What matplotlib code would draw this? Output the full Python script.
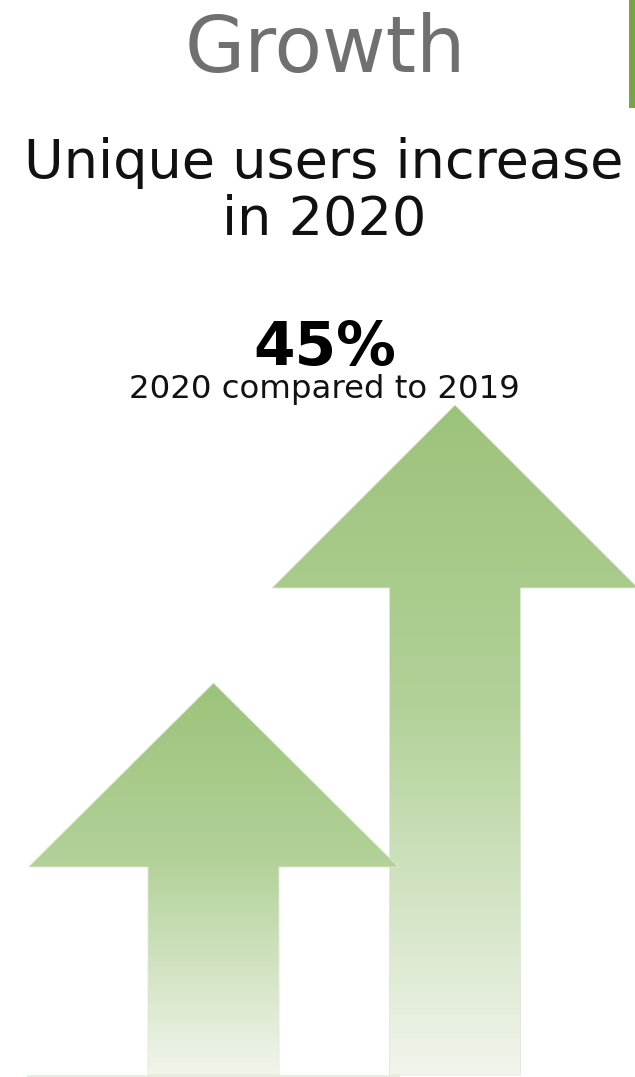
import numpy as np
import matplotlib
matplotlib.use("Agg")
import matplotlib.pyplot as plt
from matplotlib.patches import Polygon
from matplotlib.colors import LinearSegmentedColormap

# ---- data ----
years = ["2019", "2020"]
arrow_heights = [392, 670]          # relative arrow height (px-scaled units)
title = "Growth"
subtitle_lines = ["Unique users increase", "in 2020"]
headline_value = "45%"
headline_caption = "2020 compared to 2019"

# ---- style / layout ----
W, H = 635, 1077
fig = plt.figure(figsize=(W / 100, H / 100), dpi=100)
ax = fig.add_axes([0, 0, 1, 1])
ax.set_xlim(0, W)
ax.set_ylim(0, H)
ax.axis("off")

ground = 2
centers = [213.5, 455]
head_half = [185, 183]
head_h = [184, 183]
shaft_half = 65.5
zorders = [4, 2]

cmap = LinearSegmentedColormap.from_list(
    "g", [(0.0, "#9cc37a"), (0.45, "#b2d198"), (1.0, "#f1f5ec")])

# faint ground shadow
ax.plot([28, 398], [1.5, 1.5], color="#e6eedf", linewidth=2, zorder=1)

for cx, hh, hw, hd, z in zip(centers, arrow_heights, head_half, head_h, zorders):
    top = ground + hh
    base = top - hd
    verts = [(cx, top), (cx + hw, base), (cx + shaft_half, base),
             (cx + shaft_half, ground), (cx - shaft_half, ground),
             (cx - shaft_half, base), (cx - hw, base)]
    poly = Polygon(verts, closed=True, facecolor="none", edgecolor="none")
    ax.add_patch(poly)
    grad = np.linspace(0, 1, 256).reshape(-1, 1)
    im = ax.imshow(grad, cmap=cmap, aspect="auto",
                   extent=[cx - hw, cx + hw, ground, top], zorder=z,
                   interpolation="bilinear")
    im.set_clip_path(poly)
    ax.add_patch(Polygon(verts, closed=True, facecolor="none",
                         edgecolor="#dfe9d5", linewidth=0.6, zorder=z + 0.5,
                         joinstyle="miter"))

# green accent bar at top right
ax.add_patch(plt.Rectangle((629, H - 108), 6, 108, facecolor="#76a543",
                           edgecolor="none", zorder=6))
ax.set_xlim(0, W)
ax.set_ylim(0, H)

def fy(px):
    return 1 - px / H

fig.text(0.512, fy(72), title, ha="center", va="baseline",
         fontsize=56, color="#707070", family="DejaVu Sans")
fig.text(0.510, fy(178), subtitle_lines[0], ha="center", va="baseline",
         fontsize=39, color="#111111", family="DejaVu Sans")
fig.text(0.510, fy(235), subtitle_lines[1], ha="center", va="baseline",
         fontsize=39, color="#111111", family="DejaVu Sans")
fig.text(0.512, fy(365), headline_value, ha="center", va="baseline",
         fontsize=43, fontweight="bold", color="#000000", family="DejaVu Sans")
fig.text(0.511, fy(398), headline_caption, ha="center", va="baseline",
         fontsize=23.3, color="#111111", family="DejaVu Sans")

fig.savefig("out.png", dpi=100)
